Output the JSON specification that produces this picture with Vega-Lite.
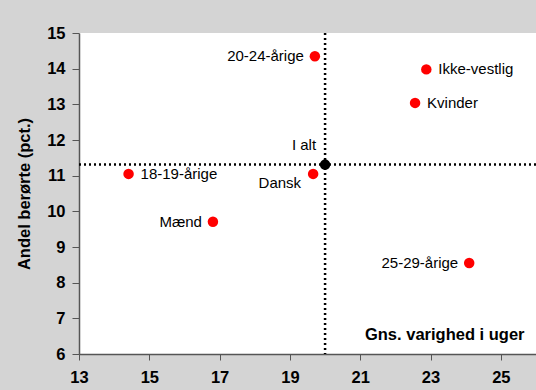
{
  "$schema": "https://vega.github.io/schema/vega-lite/v6.json",
  "width": 457,
  "height": 321,
  "autosize": {"type": "none"},
  "padding": {"left": 79, "top": 33, "right": 0, "bottom": 36},
  "background": "#d4d4d4",
  "config": {
    "view": {"fill": "white", "stroke": null},
    "font": "Liberation Sans",
    "axis": {"grid": false}
  },
  "data": {
    "values": [
      {"label": "20-24-årige", "weeks": 19.71, "share": 14.35},
      {"label": "Ikke-vestlig", "weeks": 22.88, "share": 13.98},
      {"label": "Kvinder", "weeks": 22.56, "share": 13.04},
      {"label": "I alt", "weeks": 20.0, "share": 11.31},
      {"label": "18-19-årige", "weeks": 14.41, "share": 11.05},
      {"label": "Dansk", "weeks": 19.66, "share": 11.05},
      {"label": "Mænd", "weeks": 16.81, "share": 9.71},
      {"label": "25-29-årige", "weeks": 24.1, "share": 8.55}
    ]
  },
  "encoding": {
    "x": {
      "field": "weeks",
      "type": "quantitative",
      "scale": {"domain": [13, 26], "nice": false, "zero": false},
      "axis": {
        "values": [13, 15, 17, 19, 21, 23, 25],
        "labelFlush": false,
        "labelOverlap": false,
        "labelFontSize": 16.5,
        "labelFontWeight": "bold",
        "labelColor": "black",
        "labelPadding": 9,
        "tickSize": 6,
        "tickColor": "#555555",
        "domainColor": "#555555",
        "domainWidth": 1.5,
        "title": "Gns. varighed i uger",
        "titleFontSize": 16.5,
        "titleFontWeight": "bold",
        "titleColor": "black",
        "titleAlign": "right",
        "titleAnchor": null,
        "titleBaseline": "alphabetic",
        "titleX": 445,
        "titleY": -15
      }
    },
    "y": {
      "field": "share",
      "type": "quantitative",
      "scale": {"domain": [6, 15], "nice": false, "zero": false},
      "axis": {
        "values": [6, 7, 8, 9, 10, 11, 12, 13, 14, 15],
        "labelFlush": false,
        "labelOverlap": false,
        "labelFontSize": 16.5,
        "labelFontWeight": "bold",
        "labelColor": "black",
        "labelPadding": 7,
        "tickSize": 7,
        "tickColor": "#555555",
        "domainColor": "#555555",
        "domainWidth": 1.5,
        "title": "Andel berørte (pct.)",
        "titleFontSize": 16.5,
        "titleFontWeight": "bold",
        "titleColor": "black",
        "titlePadding": 14
      }
    }
  },
  "layer": [
    {
      "transform": [{"filter": "datum.label === 'I alt'"}],
      "mark": {"type": "rule", "strokeDash": [2, 3], "strokeWidth": 2.5, "color": "black"},
      "encoding": {"y": null}
    },
    {
      "transform": [{"filter": "datum.label === 'I alt'"}],
      "mark": {"type": "rule", "strokeDash": [2, 3], "strokeWidth": 2.5, "color": "black"},
      "encoding": {"x": null}
    },
    {
      "mark": {"type": "circle", "size": 110, "opacity": 1},
      "encoding": {
        "color": {"condition": {"test": "datum.label === 'I alt'", "value": "black"}, "value": "#ff0000"}
      }
    },
    {
      "transform": [{"filter": "indexof(['20-24-årige','Mænd','25-29-årige'], datum.label) >= 0"}],
      "mark": {"type": "text", "align": "right", "baseline": "middle", "dx": -11, "fontSize": 15, "color": "black"},
      "encoding": {"text": {"field": "label"}}
    },
    {
      "transform": [{"filter": "indexof(['Ikke-vestlig','Kvinder','18-19-årige'], datum.label) >= 0"}],
      "mark": {"type": "text", "align": "left", "baseline": "middle", "dx": 12, "fontSize": 15, "color": "black"},
      "encoding": {"text": {"field": "label"}}
    },
    {
      "transform": [{"filter": "datum.label === 'Dansk'"}],
      "mark": {"type": "text", "align": "right", "baseline": "middle", "dx": -12, "dy": 9, "fontSize": 15, "color": "black"},
      "encoding": {"text": {"field": "label"}}
    },
    {
      "transform": [{"filter": "datum.label === 'I alt'"}],
      "mark": {"type": "text", "align": "right", "baseline": "middle", "dx": -9, "dy": -20, "fontSize": 15, "color": "black"},
      "encoding": {"text": {"field": "label"}}
    }
  ]
}
